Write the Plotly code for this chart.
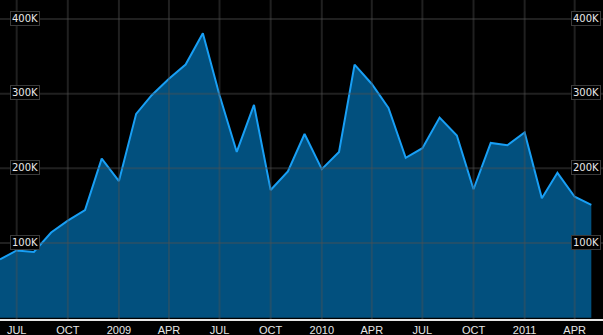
import plotly.graph_objects as go
import pandas as pd

# Monthly values, Jun 2008 .. May 2011
months = pd.date_range("2008-06-01", "2011-05-01", freq="MS")
values = [78, 90, 88, 114, 130, 144, 213, 183, 273, 298, 320, 339,
          381, 298, 222, 285, 171, 196, 246, 199, 222, 339, 313, 281,
          214, 227, 268, 244, 172, 234, 231, 248, 160, 194, 162, 151]
values = [v * 1000 for v in values]

xtick_vals = ["2008-07-01", "2008-10-01", "2009-01-01", "2009-04-01", "2009-07-01",
              "2009-10-01", "2010-01-01", "2010-04-01", "2010-07-01", "2010-10-01",
              "2011-01-01", "2011-04-01"]
xtick_text = ["JUL", "OCT", "2009", "APR", "JUL", "OCT", "2010", "APR", "JUL", "OCT",
              "2011", "APR"]
ytick_vals = [100000, 200000, 300000, 400000]
ytick_text = ["100K", "200K", "300K", "400K"]

fig = go.Figure()
fig.add_trace(go.Scatter(
    x=months, y=values, mode="lines", fill="tozeroy",
    line=dict(color="#189ff5", width=2),
    fillcolor="#02507e", hoverinfo="skip"))

grid_col = "rgba(80,80,80,0.4)"
shapes = []
for xv in xtick_vals:
    shapes.append(dict(type="line", xref="x", yref="paper", x0=xv, x1=xv, y0=0, y1=1,
                       line=dict(color=grid_col, width=2), layer="above"))
for yv in ytick_vals:
    shapes.append(dict(type="line", xref="paper", yref="y", x0=0, x1=1, y0=yv, y1=yv,
                       line=dict(color=grid_col, width=2), layer="above"))

annotations = []
for yv, yt in zip(ytick_vals, ytick_text):
    for xpos, anchor in ((10 / 603, "left"), (601 / 603, "right")):
        annotations.append(dict(
            x=xpos, xref="paper", y=yv, yref="y", text=yt, showarrow=False,
            xanchor=anchor, yanchor="middle", yshift=1,
            font=dict(family="DejaVu Sans", size=10, color="#e8e8e8"),
            bgcolor="black", bordercolor="#3a3a3a", borderwidth=1, borderpad=1))

fig.update_layout(
    width=603, height=335,
    margin=dict(l=0, r=0, t=0, b=16),
    paper_bgcolor="black", plot_bgcolor="black",
    showlegend=False,
    shapes=shapes, annotations=annotations,
    xaxis=dict(range=["2008-06-01", "2011-05-22"], tickvals=xtick_vals, ticktext=xtick_text,
               showgrid=False, zeroline=False, showline=True, linecolor="#e6e6e6", linewidth=1.5,
               ticks="", tickfont=dict(family="Liberation Sans", size=11, color="#e6e6e6")),
    yaxis=dict(range=[-1800, 425500], showgrid=False, zeroline=False, showticklabels=False,
               ticks=""),
)
fig.write_html("out.html")
